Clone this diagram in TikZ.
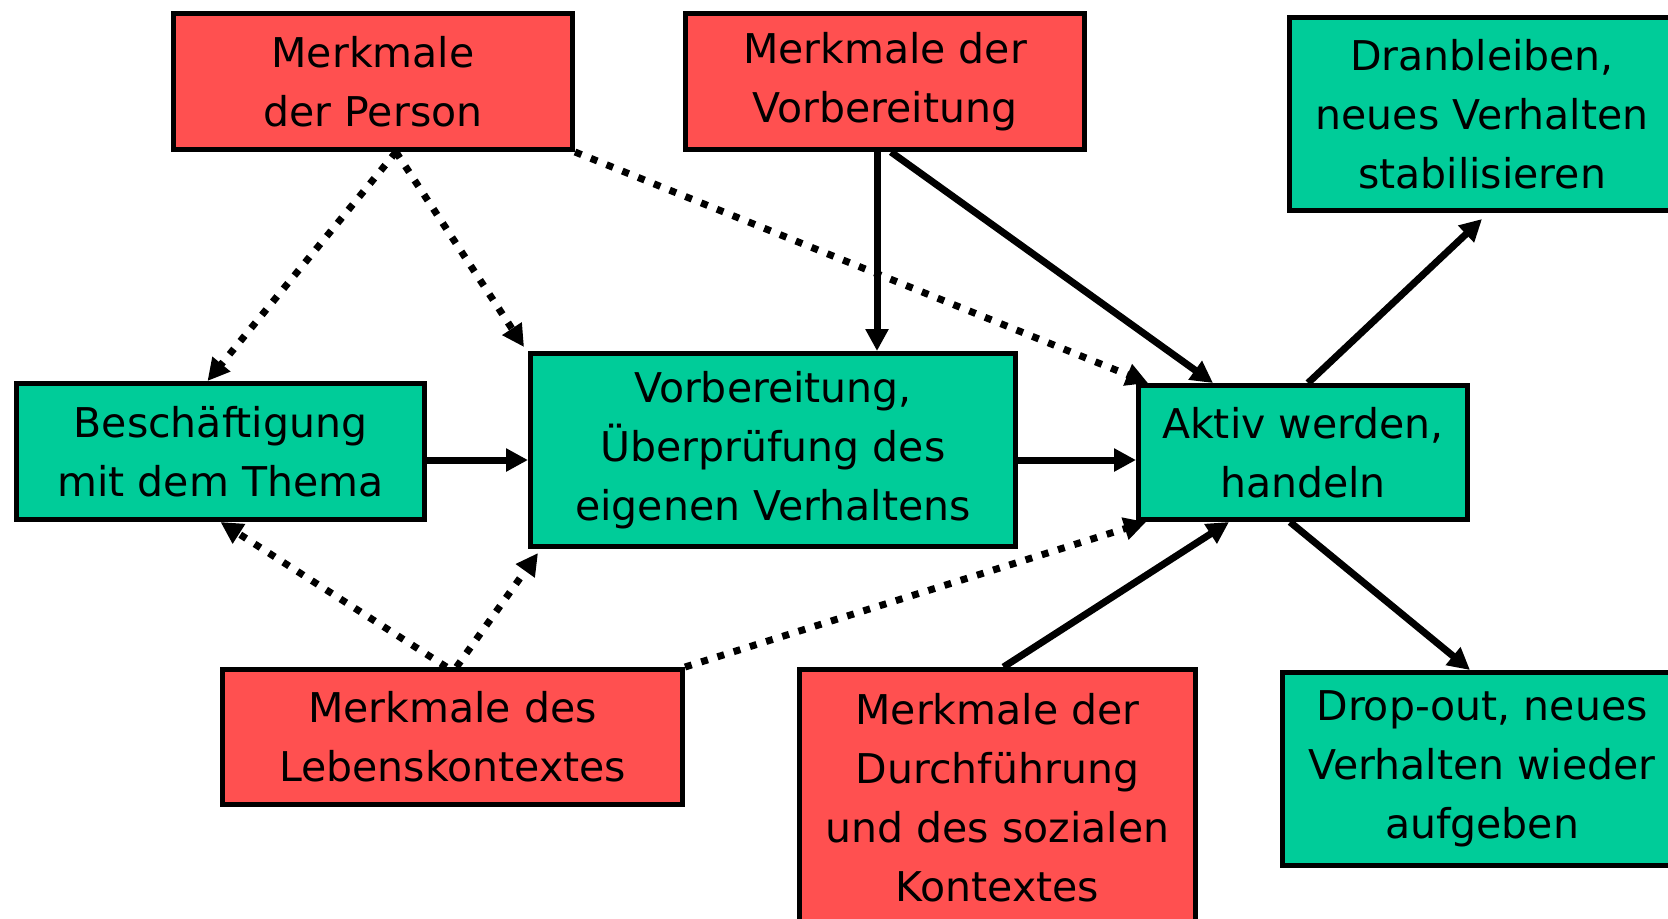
\documentclass[tikz,border=0pt]{standalone}
\usepackage{fontspec}
\setmainfont{DejaVu Sans}
\usetikzlibrary{arrows.meta}
\definecolor{boxred}{RGB}{255,80,80}
\definecolor{boxgreen}{RGB}{0,204,153}

\begin{document}
\begin{tikzpicture}[x=0.5pt,y=-0.5pt,
 box/.style={draw=black,line width=2.5pt,align=center,inner sep=0pt,font=\fontsize{20.5}{29.5}\selectfont},
 merk/.style={box,fill=boxred},
 stufe/.style={box,fill=boxgreen},
 pfeil/.style={line width=3.5pt,-{Triangle[length=11pt,width=11pt]}},
 punkt/.style={pfeil,dash pattern=on 3.5pt off 5pt}]
 \useasboundingbox (0,0) rectangle (1668,918);
 \node[merk,minimum width=199.5pt,minimum height=68pt] (pers) at (373,81.5) {Merkmale\\der Person};
 \node[merk,minimum width=199.5pt,minimum height=68pt] (vorb) at (885,81.5) {Merkmale der\\Vorbereitung};
 \node[stufe,minimum width=192.5pt,minimum height=96.5pt] (dran) at (1482,114) {Dranbleiben,\\neues Verhalten\\stabilisieren};
 \node[stufe,minimum width=204pt,minimum height=68pt] (besch) at (220.5,451.5) {Beschäftigung\\mit dem Thema};
 \node[stufe,minimum width=242.5pt,minimum height=96.5pt] (vorber) at (773,450) {Vorbereitung,\\Überprüfung des\\eigenen Verhaltens};
 \node[stufe,minimum width=164.5pt,minimum height=67pt] (aktiv) at (1303,452.5) {Aktiv werden,\\handeln};
 \node[merk,minimum width=230pt,minimum height=67.5pt] (leben) at (452.5,737) {Merkmale des\\Lebenskontextes};
 \node[merk,minimum width=198pt,minimum height=128.5pt] (durch) at (997.5,798) {Merkmale der\\Durchführung\\und des sozialen\\Kontextes};
 \node[stufe,minimum width=199.5pt,minimum height=96.5pt] (drop) at (1482,769) {Drop-out, neues\\Verhalten wieder\\aufgeben};
 \draw[punkt] ([xshift=11.5pt]pers.south) -- ([xshift=-6.5pt]besch.north);
 \draw[punkt] ([xshift=11.5pt]pers.south) -- ([xshift=-2pt,yshift=2pt]vorber.north west);
 \draw[punkt] (pers.south east) -- ([xshift=6pt]aktiv.north west);
 \draw[punkt] ([xshift=-3pt]leben.north) -- (besch.south);
 \draw[punkt] ([xshift=2pt]leben.north) -- ([xshift=5pt,yshift=-2pt]vorber.south west);
 \draw[punkt] (leben.north east) -- ([xshift=5pt]aktiv.south west);
 \draw[pfeil] ([yshift=-4.25pt]besch.east) -- ([yshift=-5pt]vorber.west);
 \draw[pfeil] ([yshift=-5pt]vorber.east) -- ([yshift=-3.75pt]aktiv.west);
 \draw[pfeil] ([xshift=-4pt]vorb.south) -- ([xshift=-4pt]vorb.south |- vorber.north);
 \draw[pfeil] ([xshift=3pt]vorb.south) -- ([xshift=-45pt]aktiv.north);
 \draw[pfeil] ([xshift=3pt]durch.north) -- ([xshift=-37pt]aktiv.south);
 \draw[pfeil] ([xshift=2.5pt]aktiv.north) -- ([yshift=-3pt]dran.south);
 \draw[pfeil] ([xshift=-6.5pt]aktiv.south) -- ([xshift=-6pt]drop.north);
\end{tikzpicture}
\end{document}
